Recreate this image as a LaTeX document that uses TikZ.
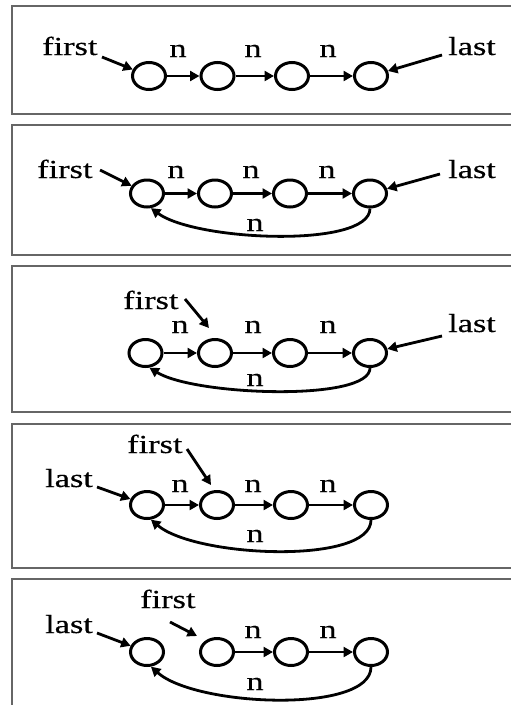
\documentclass[tikz,border=0pt]{standalone}
\usepackage{fontspec}
\setmainfont[FakeBold=0.35]{Liberation Serif}
\usetikzlibrary{shapes.geometric,arrows.meta}
% the lettering is set slightly wide
\newcommand{\widetext}[1]{\scalebox{1.32}[1]{#1}}
\begin{document}
\begin{tikzpicture}[x=1pt,y=-1pt,
  cell/.style={ellipse,draw,line width=3pt,minimum width=33pt,minimum height=27pt,inner sep=0pt},
  ptr/.style={line width=2.8pt,-{Triangle[length=9.5pt,width=10pt]}},
  panel/.style={draw=black!60,line width=1.3pt},
  word/.style={inner sep=0pt,anchor=base west,font=\fontsize{26}{30}\selectfont},
  tag/.style={inner sep=0pt,anchor=base,font=\fontsize{26}{30}\selectfont}]
\useasboundingbox (0,0) rectangle (511,705);
\clip (0,0) rectangle (511,705);
\fill[white] (0,0) rectangle (511,705);

% ---------- row 1: plain chain ----------
\draw[panel] (12,6) rectangle (540,114);
\node[cell] (a1) at (149,76) {};
\node[cell] (a2) at (217.5,76) {};
\node[cell] (a3) at (292,76) {};
\node[cell] (a4) at (371,76) {};
\node[word] (af) at (42,55) {\widetext{first}};
\node[word] (al) at (448,55) {\widetext{last}};
\node[tag] (an1) at (178,57) {\widetext{n}};
\node[tag] (an2) at (253,57) {\widetext{n}};
\node[tag] (an3) at (328,57) {\widetext{n}};
\draw[ptr] (a1) -- (a2);
\draw[ptr] (a2) -- (a3);
\draw[ptr] (a3) -- (a4);
\coordinate (aft) at (102,57);
\coordinate (alt) at (442,55);
\draw[ptr] (aft) -- (a1);
\draw[ptr] (alt) -- (a4);

% ---------- row 2: closed ring ----------
\draw[panel] (12,125) rectangle (540,255);
\node[cell] (b1) at (147,193.5) {};
\node[cell] (b2) at (215,193.5) {};
\node[cell] (b3) at (290,193.5) {};
\node[cell] (b4) at (370,193.5) {};
\node[word] (bf) at (37,178) {\widetext{first}};
\node[word] (bl) at (448,178) {\widetext{last}};
\node[tag] (bn1) at (176,178) {\widetext{n}};
\node[tag] (bn2) at (251,178) {\widetext{n}};
\node[tag] (bn3) at (327,178) {\widetext{n}};
\node[tag] (bn4) at (255,231) {\widetext{n}};
\draw[ptr] (b1) -- (b2);
\draw[ptr] (b2) -- (b3);
\draw[ptr] (b3) -- (b4);
\draw[ptr] (b4.south) .. controls +(0,40) and +(45,33) .. (b1.-75);
\coordinate (bft) at (100,170);
\coordinate (blt) at (440,174);
\draw[ptr] (bft) -- (b1);
\draw[ptr] (blt) -- (b4);

% ---------- row 3: first moved on ----------
\draw[panel] (12,266) rectangle (540,412);
\node[cell] (c1) at (145.5,353) {};
\node[cell] (c2) at (215,353) {};
\node[cell] (c3) at (290,353) {};
\node[cell] (c4) at (370,353) {};
\node[word] (cf) at (123,309) {\widetext{first}};
\node[word] (cl) at (448,332) {\widetext{last}};
\node[tag] (cn1) at (180,333) {\widetext{n}};
\node[tag] (cn2) at (253,333) {\widetext{n}};
\node[tag] (cn3) at (328,333) {\widetext{n}};
\node[tag] (cn4) at (255,386) {\widetext{n}};
\draw[ptr] (c1) -- (c2);
\draw[ptr] (c2) -- (c3);
\draw[ptr] (c3) -- (c4);
\draw[ptr] (c4.south) .. controls +(0,34) and +(45,28) .. (c1.-75);
\coordinate (cft) at (185,299);
\coordinate (cfh) at (209,328);
\coordinate (clt) at (442,336);
\draw[ptr] (cft) -- (cfh);
\draw[ptr] (clt) -- (c4);

% ---------- row 4: last moved on ----------
\draw[panel] (12,424) rectangle (540,568);
\node[cell] (d1) at (147,505) {};
\node[cell] (d2) at (217,505) {};
\node[cell] (d3) at (291,505) {};
\node[cell] (d4) at (371,505) {};
\node[word] (df) at (127,453) {\widetext{first}};
\node[word] (dl) at (45,487) {\widetext{last}};
\node[tag] (dn1) at (180,492) {\widetext{n}};
\node[tag] (dn2) at (253,492) {\widetext{n}};
\node[tag] (dn3) at (328,492) {\widetext{n}};
\node[tag] (dn4) at (255,542) {\widetext{n}};
\draw[ptr] (d1) -- (d2);
\draw[ptr] (d2) -- (d3);
\draw[ptr] (d3) -- (d4);
\draw[ptr] (d4.south) .. controls +(0,45) and +(45,38) .. (d1.-75);
\coordinate (dft) at (187,449);
\coordinate (dfh) at (211,485);
\coordinate (dlt) at (97,487);
\draw[ptr] (dft) -- (dfh);
\draw[ptr] (dlt) -- (d1);

% ---------- row 5: link from the last cell removed ----------
\draw[panel] (12,579) rectangle (540,740);
\node[cell] (e1) at (147,652) {};
\node[cell] (e2) at (217,652) {};
\node[cell] (e3) at (291,652) {};
\node[cell] (e4) at (371,652) {};
\node[word] (ef) at (140,608) {\widetext{first}};
\node[word] (el) at (45,633) {\widetext{last}};
\node[tag] (en2) at (253,638) {\widetext{n}};
\node[tag] (en3) at (328,638) {\widetext{n}};
\node[tag] (en4) at (255,690) {\widetext{n}};
\draw[ptr] (e2) -- (e3);
\draw[ptr] (e3) -- (e4);
\draw[ptr] (e4.south) .. controls +(0,47) and +(45,40) .. (e1.-75);
\coordinate (eft) at (170,622);
\coordinate (efh) at (197,636);
\coordinate (elt) at (97,633);
\draw[ptr] (eft) -- (efh);
\draw[ptr] (elt) -- (e1);
\end{tikzpicture}
\end{document}
